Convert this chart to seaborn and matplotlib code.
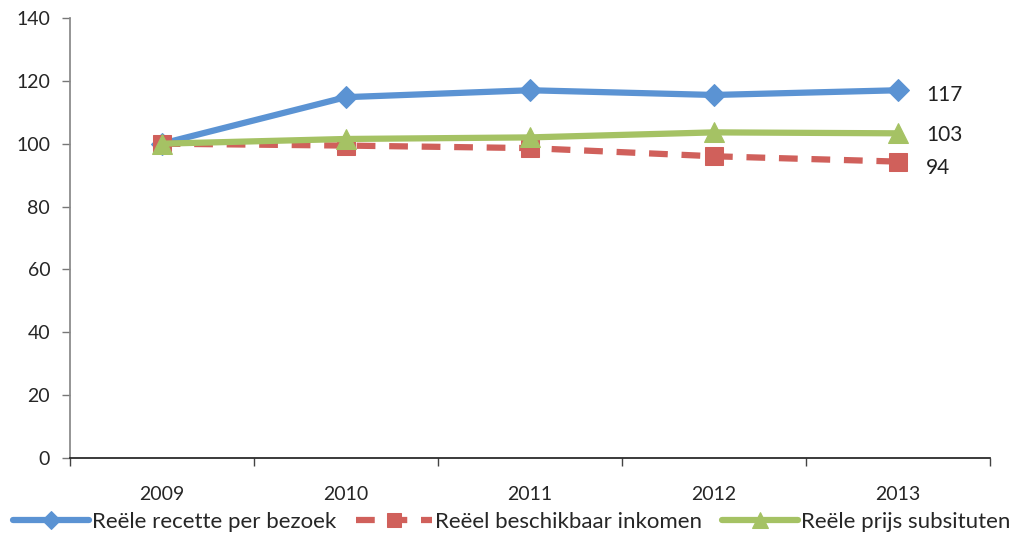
import numpy as np
import pandas as pd
import matplotlib
matplotlib.use("Agg")
import matplotlib.pyplot as plt
import seaborn as sns
from matplotlib.ticker import FixedLocator

years = ["2009", "2010", "2011", "2012", "2013"]
recette = [100, 114.8, 117.0, 115.5, 117.0]
inkomen = [100, 99.4, 98.6, 96.0, 94.3]
substituten = [100, 101.5, 102.0, 103.6, 103.3]

series_names = ["Reële recette per bezoek", "Reëel beschikbaar inkomen", "Reële prijs subsituten"]
end_labels = ["117", "103", "94"]

sns.set_theme(style="white")
plt.rcParams["font.family"] = ["Lato", "DejaVu Sans"]

df = pd.DataFrame({
    "pos": list(range(len(years))) * 3,
    "value": recette + inkomen + substituten,
    "series": [series_names[0]] * 5 + [series_names[1]] * 5 + [series_names[2]] * 5,
})

fig = plt.figure(figsize=(10.24, 5.44), dpi=100)
ax = fig.add_axes([0.068, 0.158, 0.899, 0.809])

styles = {
    series_names[0]: dict(color="#5b93d3", marker="D", linestyle="-", markersize=11),
    series_names[1]: dict(color="#d0605b", marker="s", linestyle=(0, (3, 2.2)), markersize=13),
    series_names[2]: dict(color="#a5c264", marker="^", linestyle="-", markersize=14),
}

for name in series_names:
    sub = df[df["series"] == name]
    st = styles[name]
    sns.lineplot(data=sub, x="pos", y="value", ax=ax, color=st["color"],
                 linewidth=4.5, marker=st["marker"], markersize=st["markersize"],
                 markeredgecolor=st["color"], linestyle=st["linestyle"],
                 label=name, legend=False)

# labels at the end of each series
ax.text(4.15, recette[-1] - 1.5, end_labels[0], va="center", ha="left", fontsize=15, color="#222222")
ax.text(4.15, substituten[-1] - 0.5, end_labels[1], va="center", ha="left", fontsize=15, color="#222222")
ax.text(4.15, inkomen[-1] - 2.0, end_labels[2], va="center", ha="left", fontsize=15, color="#222222")

ax.set_xlim(-0.5, 4.5)
ax.set_ylim(0, 140)
ax.set_yticks(np.arange(0, 141, 20))
ax.set_xticks(range(len(years)))
ax.set_xticklabels(years)
ax.xaxis.set_minor_locator(FixedLocator(np.arange(-0.5, 4.6, 1)))
ax.tick_params(axis="x", which="major", length=0, pad=20, labelsize=14)
ax.tick_params(axis="x", which="minor", length=6, width=1, color="#444444", direction="out")
ax.tick_params(axis="y", length=6, width=1, color="#777777", direction="out", labelsize=14, pad=8)
ax.tick_params(bottom=True, left=True, which="both")
ax.set_xlabel("")
ax.set_ylabel("")

sns.despine(ax=ax)
ax.spines["left"].set_color("#888888")
ax.spines["bottom"].set_color("#222222")

handles, labels = ax.get_legend_handles_labels()
fig.legend(handles, labels, loc="lower center", bbox_to_anchor=(0.5, -0.015), ncol=3,
           frameon=False, fontsize=16, handlelength=3.4, handletextpad=0.15,
           columnspacing=0.9, markerscale=0.8)

fig.savefig("out.png", dpi=100)
